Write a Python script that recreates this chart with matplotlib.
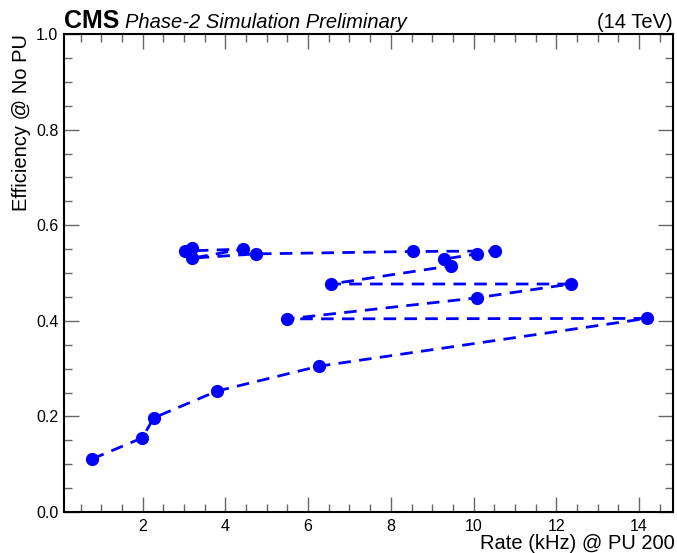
import matplotlib
matplotlib.use("Agg")
import matplotlib.pyplot as plt
from matplotlib.ticker import MultipleLocator

plt.rcParams['font.family'] = ['Liberation Sans', 'DejaVu Sans']

rate = [0.78, 1.99, 2.27, 3.80, 6.26, 14.19, 5.49, 10.08, 12.35, 6.55,
        9.45, 9.28, 10.08, 10.52, 8.53, 4.74, 3.19, 4.43, 3.02, 3.19]
eff = [0.111, 0.155, 0.197, 0.253, 0.305, 0.405, 0.404, 0.448, 0.477, 0.477,
       0.515, 0.529, 0.540, 0.546, 0.545, 0.540, 0.531, 0.550, 0.546, 0.552]

fig = plt.figure(figsize=(6.77, 5.53), dpi=100)
ax = fig.add_axes([64/677, 1-512/553, (673-64)/677, (512-34)/553])

ax.plot(rate, eff, color='#0000ff', linestyle='--', linewidth=2,
        marker='o', markersize=8.5, dashes=(4.5, 3))

ax.set_xlim(0.1, 14.82)
ax.set_ylim(0.0, 1.0)
ax.xaxis.set_major_locator(MultipleLocator(2))
ax.xaxis.set_minor_locator(MultipleLocator(0.5))
ax.yaxis.set_major_locator(MultipleLocator(0.2))
ax.yaxis.set_minor_locator(MultipleLocator(0.05))
ax.tick_params(which='both', direction='in', top=True, right=True, labelsize=11.5, color='#666666')
ax.tick_params(which='major', length=11, width=1)
ax.tick_params(which='minor', length=6, width=1)
ax.tick_params(axis='x', which='major', pad=5)
ax.tick_params(axis='y', which='major', pad=4)
ax.set_yticks([0.0, 0.2, 0.4, 0.6, 0.8, 1.0])
ax.set_yticklabels(['0.0', '0.2', '0.4', '0.6', '0.8', '1.0'])
for s in ax.spines.values():
    s.set_linewidth(1.5)

fig.text(675/677, 4/553, 'Rate (kHz) @ PU 200', fontsize=14.5, ha='right', va='baseline')
ax.set_ylabel('Efficiency @ No PU', fontsize=14.5, loc='top', labelpad=4)

fig.text(64/677, 1-28/553, 'CMS', fontsize=18, fontweight='bold', ha='left', va='baseline')
fig.text(125/677, 1-28/553, 'Phase-2 Simulation Preliminary', fontsize=14.5, style='italic', ha='left', va='baseline')
fig.text(673/677, 1-28/553, '(14 TeV)', fontsize=14.5, ha='right', va='baseline')

fig.savefig('out.png', dpi=100)
